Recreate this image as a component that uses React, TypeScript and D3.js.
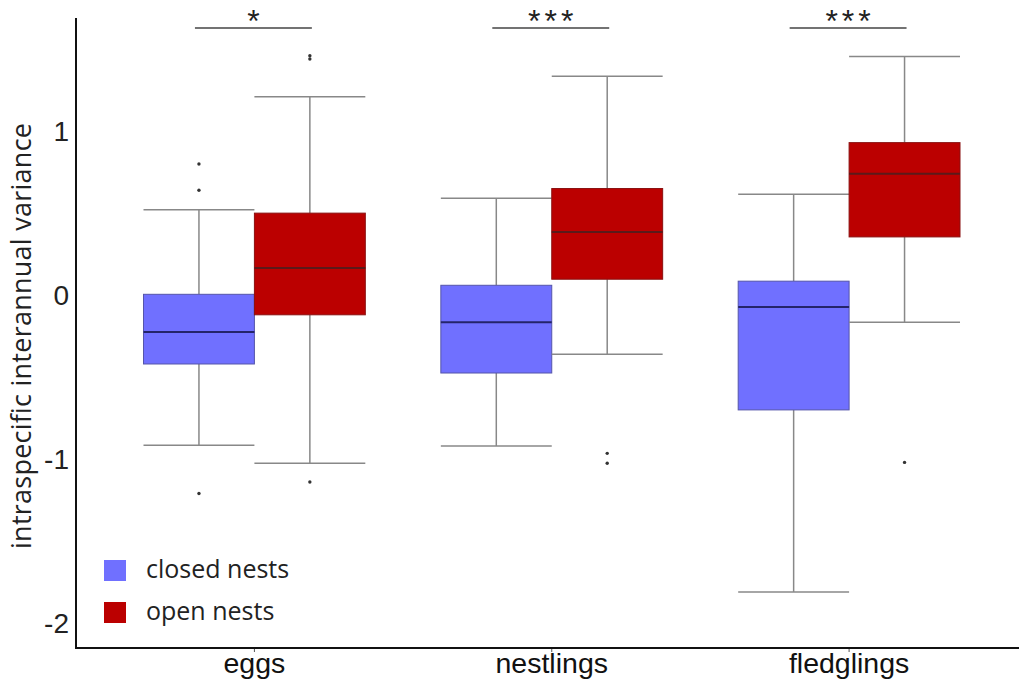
import React from "react";
import * as d3 from "d3";

// categories and groups
const stages = ["eggs", "nestlings", "fledglings"];
const nestTypes = ["closed nests", "open nests"];
const nestColors = ["#7070ff", "#bb0000"];
const medianColors = ["#24246a", "#5a1a1a"];

// [lower whisker, q1, median, q3, upper whisker] per stage
const closedStats = [
  [-0.915, -0.42, -0.225, 0.005, 0.52],
  [-0.92, -0.475, -0.165, 0.06, 0.59],
  [-1.81, -0.7, -0.073, 0.085, 0.615],
];
const openStats = [
  [-1.025, -0.12, 0.165, 0.5, 1.21],
  [-0.36, 0.097, 0.385, 0.65, 1.335],
  [-0.165, 0.355, 0.74, 0.93, 1.455],
];
const closedOutliers = [[0.8, 0.64, -1.21], [], []];
const openOutliers = [[1.46, 1.44, -1.14], [-0.965, -1.025], [-1.02]];

const significance = ["*", "***", "***"];
const yTicks = [-2, -1, 0, 1];

const W = 1019;
const H = 690;

const App = () => {
  const x = d3.scaleLinear().domain([0.4, 3.6]).range([76, 1027.5]);
  const y = d3.scaleLinear().domain([-2.152, 1.69]).range([648, 18]);
  const boxW = 0.373;
  const pxW = x(boxW) - x(0);

  const statsByGroup = [closedStats, openStats];
  const outByGroup = [closedOutliers, openOutliers];

  const sans = "'Liberation Sans', Arial, sans-serif";
  const open = "'Open Sans', sans-serif";

  return (
    <svg
      width={W}
      height={H}
      style={{ position: "absolute", left: 0, top: 0, background: "#fff" }}
    >
      {stages.map((stage, i) => {
        const cx = x(i + 1);
        const barL = cx - pxW / 2 - 4;
        const barR = cx + pxW / 2 + 2;
        return (
          <g key={stage}>
            {statsByGroup.map((stats, g) => {
              const [lo, q1, med, q3, hi] = stats[i];
              const bx = cx + (g === 0 ? -pxW : 0);
              const mid = bx + pxW / 2;
              return (
                <g key={g}>
                  <line x1={mid} x2={mid} y1={y(hi)} y2={y(q3)} stroke="#888" strokeWidth={1.5} />
                  <line x1={mid} x2={mid} y1={y(q1)} y2={y(lo)} stroke="#888" strokeWidth={1.5} />
                  <line x1={bx} x2={bx + pxW} y1={y(hi)} y2={y(hi)} stroke="#888" strokeWidth={1.5} />
                  <line x1={bx} x2={bx + pxW} y1={y(lo)} y2={y(lo)} stroke="#888" strokeWidth={1.5} />
                  <rect
                    x={bx}
                    y={y(q3)}
                    width={pxW}
                    height={y(q1) - y(q3)}
                    fill={nestColors[g]}
                    stroke={g === 0 ? "#5555aa" : "#8a1010"}
                    strokeWidth={1}
                  />
                  <line
                    x1={bx}
                    x2={bx + pxW}
                    y1={y(med)}
                    y2={y(med)}
                    stroke={medianColors[g]}
                    strokeWidth={2}
                  />
                  {outByGroup[g][i].map((v, k) => (
                    <circle key={k} cx={mid} cy={y(v)} r={1.7} fill="#333" />
                  ))}
                </g>
              );
            })}
            {/* significance bar */}
            <line x1={barL} x2={barR} y1={28} y2={28} stroke="#444" strokeWidth={1.5} />
            <text
              x={(barL + barR) / 2 + 2}
              y={32}
              textAnchor="middle"
              fontFamily={sans}
              fontSize={32}
              letterSpacing={4}
              fill="#222"
            >
              {significance[i]}
            </text>
            <line x1={cx} x2={cx} y1={648} y2={652} stroke="#555" strokeWidth={1} />
            <text
              x={cx}
              y={673}
              textAnchor="middle"
              fontFamily={sans}
              fontSize={28.5}
              fill="#111"
            >
              {stage}
            </text>
          </g>
        );
      })}

      {/* axes */}
      <line x1={76} x2={76} y1={18} y2={649} stroke="#111" strokeWidth={2} />
      <line x1={75} x2={W} y1={648} y2={648} stroke="#111" strokeWidth={2} />
      {yTicks.map((t) => (
        <text
          key={t}
          x={69}
          y={y(t)}
          dy="0.36em"
          textAnchor="end"
          fontFamily={sans}
          fontSize={28}
          fill="#222"
        >
          {t}
        </text>
      ))}
      <text
        transform={`translate(31,${(549 + 123) / 2}) rotate(-90)`}
        textAnchor="middle"
        fontFamily={open}
        fontSize={27}
        textLength={426}
        lengthAdjust="spacing"
        fill="#222"
      >
        intraspecific interannual variance
      </text>

      {/* legend */}
      {nestTypes.map((name, g) => (
        <g key={name} transform={`translate(104,${560 + g * 42})`}>
          <rect width={22} height={21} fill={nestColors[g]} />
          <text x={42} y={18} fontFamily={open} fontSize={25} fill="#222">
            {name}
          </text>
        </g>
      ))}
    </svg>
  );
};

export default App;
